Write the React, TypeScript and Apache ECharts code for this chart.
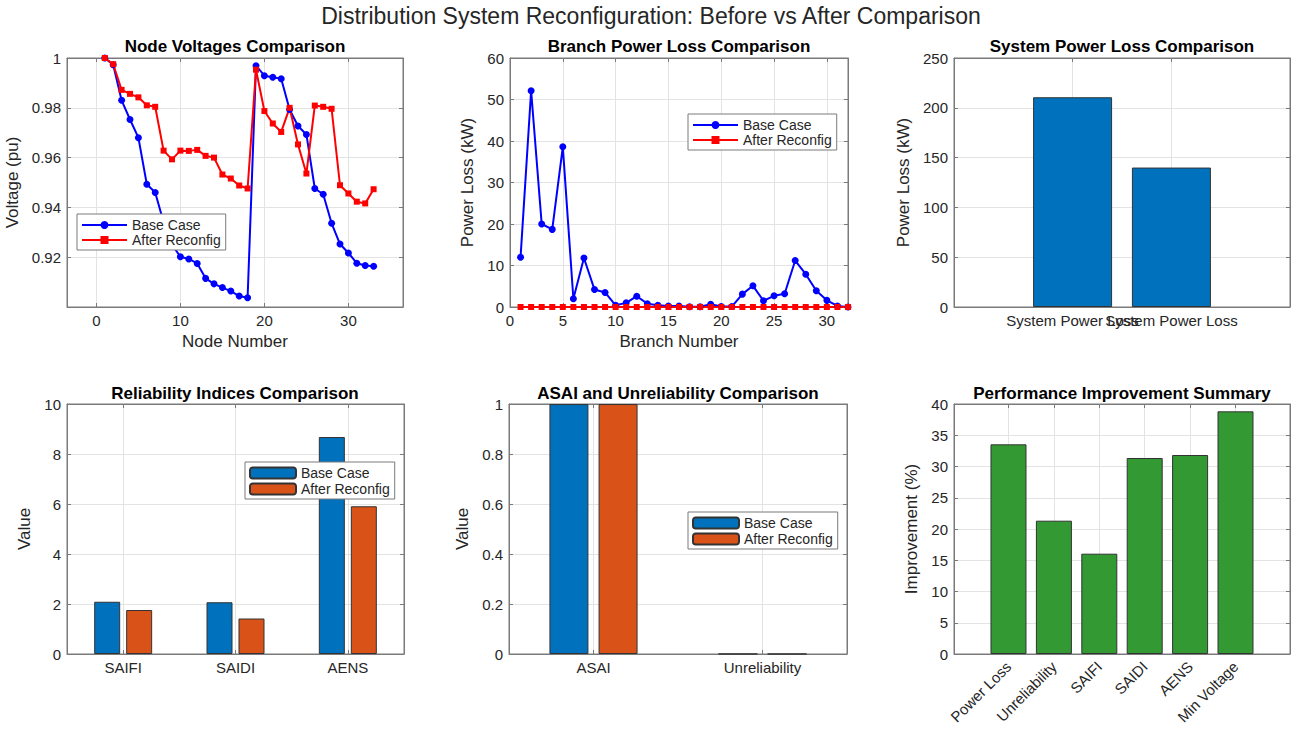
import React, { useEffect, useRef } from "react";
import * as echarts from "echarts";

// ---------------- data ----------------
const nodeNumbers = [1, 2, 3, 4, 5, 6, 7, 8, 9, 10, 11, 12, 13, 14, 15, 16, 17, 18, 19, 20, 21, 22, 23, 24, 25, 26, 27, 28, 29, 30, 31, 32, 33];
const baseVoltage = [1.0, 0.9973, 0.983, 0.9753, 0.968, 0.9493, 0.946, 0.934, 0.925, 0.9202, 0.9193, 0.9175, 0.9115, 0.9093, 0.9078, 0.9064, 0.9044, 0.9037, 0.9969, 0.9929, 0.9923, 0.9917, 0.9793, 0.9727, 0.9693, 0.9476, 0.9453, 0.9336, 0.9253, 0.9217, 0.9176, 0.9167, 0.9164];
const afterVoltage = [1.0, 0.9975, 0.9872, 0.9856, 0.9842, 0.981, 0.9804, 0.9628, 0.9593, 0.9628, 0.9627, 0.9631, 0.9607, 0.96, 0.9532, 0.9516, 0.9488, 0.9476, 0.9953, 0.9787, 0.9737, 0.9703, 0.98, 0.9653, 0.9536, 0.9809, 0.9804, 0.9796, 0.9489, 0.9456, 0.9423, 0.9416, 0.9473];
const voltageTicks = [0.92, 0.94, 0.96, 0.98, 1.0];
const nodeTicks = [0, 10, 20, 30];

const branchNumbers = [1, 2, 3, 4, 5, 6, 7, 8, 9, 10, 11, 12, 13, 14, 15, 16, 17, 18, 19, 20, 21, 22, 23, 24, 25, 26, 27, 28, 29, 30, 31, 32];
const baseBranchLoss = [12.0, 52.1, 20.0, 18.7, 38.6, 2.0, 11.8, 4.2, 3.5, 0.4, 1.0, 2.6, 0.8, 0.4, 0.25, 0.25, 0.05, 0.05, 0.65, 0.1, 0.1, 3.1, 5.1, 1.5, 2.7, 3.2, 11.2, 7.9, 3.9, 1.6, 0.25, 0.0];
const afterBranchLoss = [0, 0, 0, 0, 0, 0, 0, 0, 0, 0, 0, 0, 0, 0, 0, 0, 0, 0, 0, 0, 0, 0, 0, 0, 0, 0, 0, 0, 0, 0, 0, 0];
const branchTicks = [0, 5, 10, 15, 20, 25, 30];

const systemLossLabels = ["System Power Loss", "System Power Loss"];
const systemLoss = [210.6, 140.0];

const reliabilityCats = ["SAIFI", "SAIDI", "AENS"];
const reliabilityBase = [2.09, 2.07, 8.68];
const reliabilityAfter = [1.76, 1.42, 5.91];

const asaiCats = ["ASAI", "Unreliability"];
const asaiBase = [0.99968, 0.00032];
const asaiAfter = [0.99975, 0.00025];

const improvementCats = ["Power Loss", "Unreliability", "SAIFI", "SAIDI", "AENS", "Min Voltage"];
const improvementValues = [33.55, 21.33, 16.05, 31.36, 31.84, 38.83];

// ---------------- styles ----------------
const FONT = "'Liberation Sans', Arial, Helvetica, sans-serif";
const TXT = "#262626";
const BOX = "#7a7a7a";
const GRIDLINE = "#e3e3e3";
const LINE_BLUE = "#0000ff";
const LINE_RED = "#ff0000";
const BAR_BLUE = "#0072bd";
const BAR_ORANGE = "#d95319";
const BAR_GREEN = "#339933";
const EDGE = "#333333";

type AxisSpec = {
  type?: "value" | "category";
  min?: number;
  max?: number;
  interval?: number;
  data?: string[];
  custom?: number[];
  labelCustom?: number[];
  formatter?: any;
  name?: string;
  nameGap?: number;
  margin?: number;
  rotate?: number;
};

function makeAxis(o: AxisSpec, pos: string, mirror: boolean) {
  const isCat = o.type === "category";
  const ax: any = {
    type: isCat ? "category" : "value",
    position: pos,
    gridIndex: 0,
    axisLine: { show: true, onZero: false, lineStyle: { color: BOX, width: 1 } },
    axisTick: {
      show: true,
      inside: true,
      length: 4,
      alignWithLabel: true,
      lineStyle: { color: BOX, width: 1 },
    },
    axisLabel: mirror
      ? { show: false }
      : {
          show: true,
          color: TXT,
          fontSize: 15,
          fontFamily: FONT,
          margin: o.margin ?? 6,
          rotate: o.rotate || 0,
          hideOverlap: false,
          showMinLabel: true,
          showMaxLabel: true,
        },
    splitLine: mirror
      ? { show: false }
      : { show: true, alignWithLabel: true, lineStyle: { color: GRIDLINE, width: 1 } },
    nameLocation: "middle",
    nameTextStyle: { color: TXT, fontSize: 17, fontFamily: FONT },
  };
  if (isCat) {
    ax.data = o.data;
    ax.boundaryGap = true;
    if (!mirror) ax.axisLabel.interval = 0;
    ax.axisTick.interval = 0;
  } else {
    ax.min = o.min;
    ax.max = o.max;
    if (o.interval !== undefined) ax.interval = o.interval;
    if (o.custom) {
      ax.axisTick.customValues = o.custom;
      if (!mirror) ax.axisLabel.customValues = o.labelCustom || o.custom;
    }
  }
  if (!mirror && o.formatter) ax.axisLabel.formatter = o.formatter;
  if (!mirror && o.name) {
    ax.name = o.name;
    ax.nameGap = o.nameGap;
  }
  return ax;
}

// An extra bottom axis that only carries labels (used where two labels overlap on purpose)
function labelOnlyAxis(o: AxisSpec, values: number[]) {
  return {
    type: "value",
    position: "bottom",
    gridIndex: 0,
    min: o.min,
    max: o.max,
    axisLine: { show: false },
    axisTick: { show: false },
    splitLine: { show: false },
    axisLabel: {
      show: true,
      customValues: values,
      color: TXT,
      fontSize: 15,
      fontFamily: FONT,
      margin: o.margin ?? 6,
      hideOverlap: false,
      formatter: o.formatter,
    },
  };
}

function titleGraphic(text: string, x: number, y: number, size = 17, bold = true, color = "#000") {
  return {
    type: "text",
    x,
    y,
    silent: true,
    style: {
      text,
      font: `${bold ? "bold " : ""}${size}px ${FONT}`,
      fill: color,
      align: "center",
      verticalAlign: "middle",
      textAlign: "center",
      textVerticalAlign: "middle",
    },
  };
}

function legendAt(left: number, top: number, iconW: number, iconH: number, gap: number) {
  return {
    show: true,
    orient: "vertical",
    left,
    top,
    itemWidth: iconW,
    itemHeight: iconH,
    itemGap: gap,
    padding: [4, 5, 3, 4],
    borderColor: BOX,
    borderWidth: 1,
    borderRadius: 0,
    backgroundColor: "#ffffff",
    selectedMode: false,
    textStyle: { color: TXT, fontSize: 14, fontFamily: FONT, lineHeight: 14 },
    data: ["Base Case", "After Reconfig"],
  };
}

function panel(p: {
  title: string;
  titleX: number;
  titleY: number;
  grid: { left: number; top: number; width: number; height: number };
  x: AxisSpec;
  y: AxisSpec;
  series: any[];
  legend?: any;
  extraX?: any[];
}) {
  return {
    animation: false,
    textStyle: { fontFamily: FONT },
    grid: {
      ...p.grid,
      show: true,
      borderColor: BOX,
      borderWidth: 1,
      backgroundColor: "#ffffff",
      containLabel: false,
      outerBoundsMode: "none",
    },
    graphic: [titleGraphic(p.title, p.titleX, p.titleY)],
    legend: p.legend || { show: false },
    xAxis: [makeAxis(p.x, "bottom", false), makeAxis(p.x, "top", true), ...(p.extraX || [])],
    yAxis: [makeAxis(p.y, "left", false), makeAxis(p.y, "right", true)],
    series: p.series,
  };
}

const barEdge = { borderColor: EDGE, borderWidth: 1 };

// ---------------- options ----------------
const headerOption = {
  animation: false,
  graphic: [
    titleGraphic("Distribution System Reconfiguration: Before vs After Comparison", 651, 16, 23, false, TXT),
  ],
};

const voltageOption = panel({
  title: "Node Voltages Comparison",
  titleX: 235,
  titleY: 16,
  grid: { left: 67, top: 28, width: 336, height: 249 },
  x: { min: -3.5, max: 36.5, custom: nodeTicks, name: "Node Number", nameGap: 25 },
  y: {
    min: 0.9,
    max: 1.0,
    custom: voltageTicks,
    name: "Voltage (pu)",
    nameGap: 41,
    formatter: (v: number) => (Math.abs(v - 1) < 1e-9 ? "1" : v.toFixed(2)),
  },
  legend: legendAt(77, 184, 45, 10, 1),
  series: [
    {
      type: "line",
      name: "Base Case",
      data: nodeNumbers.map((n, i) => [n, baseVoltage[i]]),
      symbol: "circle",
      symbolSize: 7,
      showAllSymbol: true,
      color: LINE_BLUE,
      lineStyle: { color: LINE_BLUE, width: 2 },
      itemStyle: { color: LINE_BLUE },
    },
    {
      type: "line",
      name: "After Reconfig",
      data: nodeNumbers.map((n, i) => [n, afterVoltage[i]]),
      symbol: "rect",
      symbolSize: 6,
      showAllSymbol: true,
      color: LINE_RED,
      lineStyle: { color: LINE_RED, width: 2 },
      itemStyle: { color: LINE_RED },
    },
  ],
});

const branchOption = panel({
  title: "Branch Power Loss Comparison",
  titleX: 249,
  titleY: 16,
  grid: { left: 80, top: 28, width: 338, height: 249 },
  x: { min: 0, max: 32, custom: branchTicks, name: "Branch Number", nameGap: 25 },
  y: { min: 0, max: 60, interval: 10, name: "Power Loss (kW)", nameGap: 28 },
  legend: legendAt(258, 84, 45, 10, 1),
  series: [
    {
      type: "line",
      name: "Base Case",
      data: branchNumbers.map((n, i) => [n, baseBranchLoss[i]]),
      symbol: "circle",
      symbolSize: 7,
      showAllSymbol: true,
      color: LINE_BLUE,
      lineStyle: { color: LINE_BLUE, width: 2 },
      itemStyle: { color: LINE_BLUE },
    },
    {
      type: "line",
      name: "After Reconfig",
      data: branchNumbers.map((n, i) => [n, afterBranchLoss[i]]),
      symbol: "rect",
      symbolSize: 6,
      showAllSymbol: true,
      color: LINE_RED,
      lineStyle: { color: LINE_RED, width: 2 },
      itemStyle: { color: LINE_RED },
    },
  ],
});

const systemXSpec: AxisSpec = {
  min: -0.2,
  max: 3.2,
  custom: systemLossLabels.map((_, i) => i + 1),
  labelCustom: [1],
  formatter: (v: number) => systemLossLabels[Math.round(v) - 1] || "",
};

const systemOption = panel({
  title: "System Power Loss Comparison",
  titleX: 262,
  titleY: 16,
  grid: { left: 94, top: 28, width: 336, height: 249 },
  x: systemXSpec,
  extraX: [labelOnlyAxis(systemXSpec, [2])],
  y: { min: 0, max: 250, interval: 50, name: "Power Loss (kW)", nameGap: 38 },
  series: [
    {
      type: "bar",
      name: "System Power Loss",
      data: systemLoss.map((v, i) => [i + 1, v]),
      barWidth: 79,
      itemStyle: { color: BAR_BLUE, ...barEdge },
    },
  ],
});

const reliabilityOption = panel({
  title: "Reliability Indices Comparison",
  titleX: 235,
  titleY: 23,
  grid: { left: 67, top: 34, width: 337, height: 250 },
  x: { type: "category", data: reliabilityCats },
  y: { min: 0, max: 10, interval: 2, name: "Value", nameGap: 30 },
  legend: legendAt(245, 92, 46, 11, 2),
  series: [
    {
      type: "bar",
      name: "Base Case",
      data: reliabilityBase,
      barWidth: 26,
      barGap: "23%",
      itemStyle: { color: BAR_BLUE, ...barEdge },
    },
    {
      type: "bar",
      name: "After Reconfig",
      data: reliabilityAfter,
      barWidth: 26,
      barGap: "23%",
      itemStyle: { color: BAR_ORANGE, ...barEdge },
    },
  ],
});

const asaiOption = panel({
  title: "ASAI and Unreliability Comparison",
  titleX: 248,
  titleY: 23,
  grid: { left: 79, top: 34, width: 338, height: 250 },
  x: { type: "category", data: asaiCats },
  y: { min: 0, max: 1, interval: 0.2, name: "Value", nameGap: 31 },
  legend: legendAt(258, 142, 46, 11, 2),
  series: [
    {
      type: "bar",
      name: "Base Case",
      data: asaiBase,
      barWidth: 39,
      barGap: "26%",
      itemStyle: { color: BAR_BLUE, ...barEdge },
    },
    {
      type: "bar",
      name: "After Reconfig",
      data: asaiAfter,
      barWidth: 39,
      barGap: "26%",
      itemStyle: { color: BAR_ORANGE, ...barEdge },
    },
  ],
});

const improvementOption = panel({
  title: "Performance Improvement Summary",
  titleX: 262,
  titleY: 23,
  grid: { left: 94, top: 34, width: 336, height: 250 },
  x: {
    min: -0.2,
    max: 7.2,
    custom: improvementCats.map((_, i) => i + 1),
    formatter: (v: number) => improvementCats[Math.round(v) - 1] || "",
    rotate: 45,
    margin: 10,
  },
  y: { min: 0, max: 40, interval: 5, name: "Improvement (%)", nameGap: 27 },
  series: [
    {
      type: "bar",
      name: "Improvement",
      data: improvementValues.map((v, i) => [i + 1, v]),
      barWidth: 36,
      itemStyle: { color: BAR_GREEN, ...barEdge },
    },
  ],
});

const panels = [
  { left: 0, top: 0, width: 1294, height: 30, option: headerOption },
  { left: 0, top: 30, width: 430, height: 330, option: voltageOption },
  { left: 430, top: 30, width: 430, height: 330, option: branchOption },
  { left: 860, top: 30, width: 434, height: 330, option: systemOption },
  { left: 0, top: 370, width: 430, height: 359, option: reliabilityOption },
  { left: 430, top: 370, width: 430, height: 359, option: asaiOption },
  { left: 860, top: 370, width: 434, height: 359, option: improvementOption },
];

function ChartBox(props: { left: number; top: number; width: number; height: number; option: any }) {
  const ref = useRef<HTMLDivElement | null>(null);
  useEffect(() => {
    if (!ref.current) return;
    const chart = echarts.init(ref.current, null, { renderer: "svg" });
    chart.setOption(props.option);
    return () => {
      chart.dispose();
    };
  }, []);
  return (
    <div
      ref={ref}
      style={{
        position: "absolute",
        left: props.left,
        top: props.top,
        width: props.width,
        height: props.height,
      }}
    />
  );
}

export default function App() {
  return (
    <div
      style={{
        position: "absolute",
        left: 0,
        top: 0,
        width: 1294,
        height: 729,
        background: "#ffffff",
        overflow: "hidden",
      }}
    >
      {panels.map((p, i) => (
        <ChartBox key={i} {...p} />
      ))}
    </div>
  );
}
